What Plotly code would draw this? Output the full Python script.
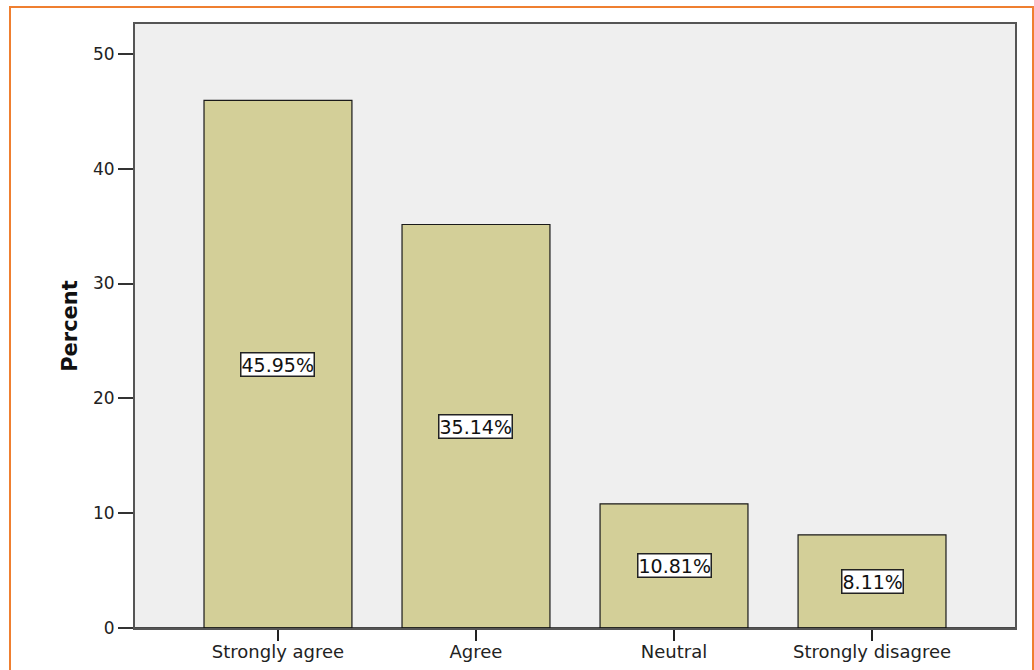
import plotly.graph_objects as go

# Survey response distribution
categories = ["Strongly agree", "Agree", "Neutral", "Strongly disagree"]
percents = [45.95, 35.14, 10.81, 8.11]
y_ticks = [0, 10, 20, 30, 40, 50]

positions = list(range(len(categories)))
FONT = "DejaVu Sans, Verdana, sans-serif"

fig = go.Figure()
fig.add_trace(go.Bar(
    x=positions,
    y=percents,
    width=0.747,
    marker=dict(color="#d3cf98", line=dict(color="#1a1a1a", width=1.2)),
    hoverinfo="skip",
))

# value labels boxed at the middle of each bar
for xp, v in zip(positions, percents):
    fig.add_annotation(
        x=xp, y=v / 2, text=f"{v:.2f}%", showarrow=False,
        font=dict(family=FONT, size=19, color="#111"),
        bgcolor="white", bordercolor="#222", borderwidth=1.5, borderpad=0,
    )

fig.update_layout(
    width=1034, height=670,
    margin=dict(l=135, r=19, t=24, b=42, autoexpand=False),
    paper_bgcolor="white",
    plot_bgcolor="#efefef",
    showlegend=False,
    font=dict(family=FONT, size=16, color="#222"),
    xaxis=dict(
        range=[-0.722, 3.722],
        tickmode="array", tickvals=positions, ticktext=categories,
        ticks="outside", ticklen=11, tickcolor="#222", tickwidth=1.5,
        ticklabelstandoff=-5,
        showgrid=False, zeroline=False, automargin=False,
        showline=True, linecolor="#555", linewidth=2, mirror=True,
        tickfont=dict(size=18),
    ),
    yaxis=dict(
        range=[0, 52.6],
        tickmode="array", tickvals=y_ticks,
        ticks="outside", ticklen=15, tickcolor="#333", tickwidth=1.5,
        showgrid=False, zeroline=False, automargin=False,
        showline=True, linecolor="#555", linewidth=2, mirror=True,
        tickfont=dict(size=17),
        title=dict(text="<b>Percent</b>", font=dict(size=21, color="#111"), standoff=10),
    ),
    shapes=[
        # orange frame around the figure
        dict(type="rect", xref="paper", yref="paper",
             x0=-125 / 880, x1=(1033 - 135) / 880, y0=-0.08, y1=1 + 17 / 604,
             line=dict(color="#ef7f30", width=2), fillcolor="rgba(0,0,0,0)", layer="below"),
        # black baseline
        dict(type="line", xref="paper", yref="y", x0=0, x1=1, y0=0, y1=0,
             line=dict(color="#111", width=1.5)),
    ],
)

fig.write_html("out.html")
